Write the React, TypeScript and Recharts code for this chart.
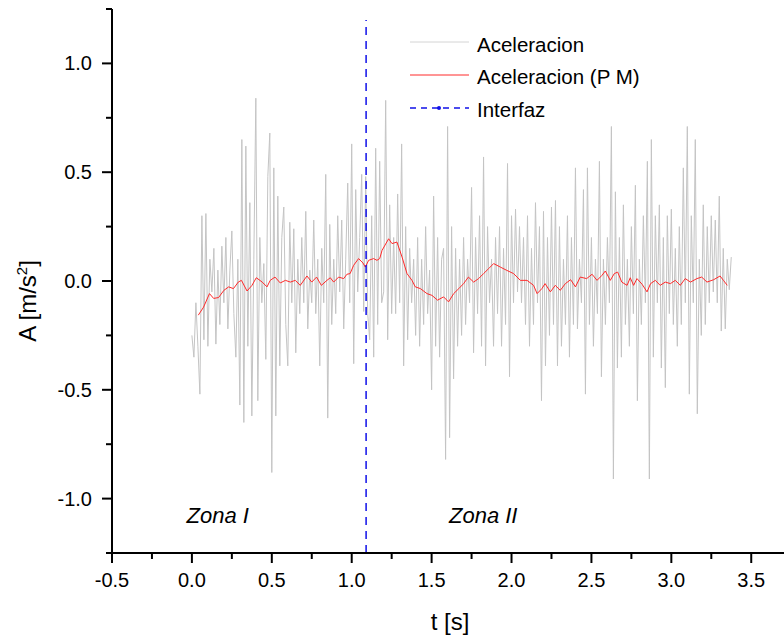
import React from "react";
import { ComposedChart, Line, XAxis, YAxis, ReferenceDot } from "recharts";

// raw acceleration, sampled every SAMPLE_DT seconds from t = 0
const SAMPLE_DT = 0.0125;
const accelValues = [
  -0.25, -0.35, -0.1, -0.3, -0.52, 0.3, -0.27, 0.31,
  -0.3, 0.1, -0.05, 0.15, -0.29, 0.05, -0.2, 0.16,
  -0.1, 0.2, -0.22, 0.05, 0.23, -0.15, -0.35, 0.1,
  -0.57, 0.65, -0.65, 0.62, -0.3, 0.36, -0.62, 0.1,
  0.84, -0.55, 0.2, -0.1, 0.08, -0.36, 0.48, 0.68,
  -0.88, 0.52, -0.62, 0.39, -0.39, 0.2, 0.34, -0.2,
  -0.39, 0.27, -0.1, 0.24, -0.33, 0.1, -0.15, 0.2,
  -0.1, 0.32, -0.22, 0.05, -0.1, 0.28, -0.15, 0.1,
  -0.39, 0.15, -0.1, 0.49, -0.63, 0.26, -0.2, 0.1,
  -0.15, 0.3, -0.05, 0.28, -0.22, 0.1, 0.45, -0.1,
  0.63, -0.38, 0.42, -0.05, 0.2, 0.49, -0.14, 0.48,
  -0.15, -0.27, 0.3, -0.35, 0.61, -0.2, 0.55, -0.1,
  -0.05, 0.83, -0.27, 0.35, -0.15, 0.2, -0.15, 0.4,
  -0.1, 0.63, -0.39, 0.25, -0.27, 0.15, -0.1, 0.1,
  -0.25, 0.2, -0.3, 0.1, -0.2, 0.25, -0.15, 0.05,
  -0.5, 0.39, -0.3, 0.2, -0.35, 0.1, 0.15, -0.82,
  0.71, -0.72, 0.25, -0.45, 0.15, -0.3, 0.1, -0.25,
  0.2, -0.2, 0.1, -0.1, 0.43, -0.33, 0.2, -0.15,
  0.3, -0.3, 0.57, -0.39, 0.25, -0.1, 0.1, -0.3,
  0.2, -0.15, 0.25, -0.3, 0.15, -0.2, 0.54, -0.44,
  0.3, -0.1, 0.33, -0.05, 0.25, -0.1, 0.2, -0.2,
  0.3, -0.3, 0.15, -0.2, 0.36, -0.1, 0.25, -0.55,
  0.32, -0.39, 0.2, -0.25, 0.34, -0.2, 0.37, -0.39,
  0.25, -0.3, 0.1, -0.2, 0.3, -0.35, 0.2, -0.2,
  0.52, -0.22, 0.1, -0.1, 0.42, -0.52, 0.52, -0.2,
  0.2, -0.3, 0.1, -0.15, 0.55, -0.44, 0.1, -0.2,
  0.2, -0.1, 0.71, -0.91, 0.41, -0.4, 0.2, -0.35,
  0.35, -0.2, 0.1, -0.3, 0.25, -0.15, 0.44, -0.55,
  0.1, -0.2, 0.3, -0.1, 0.55, -0.91, 0.65, -0.35,
  0.3, -0.1, 0.35, -0.4, 0.2, -0.49, 0.3, -0.15,
  0.33, -0.2, 0.15, -0.3, 0.25, -0.2, 0.52, -0.1,
  0.71, -0.52, 0.3, -0.1, 0.65, -0.61, 0.1, -0.25,
  0.35, -0.2, 0.25, -0.1, 0.3, -0.05, 0.28, -0.1,
  0.39, -0.23, 0.15, -0.22, 0.1, -0.04, 0.11,
];

// moving average (P M)
const pmTimes = [
  0.04, 0.073, 0.11, 0.136, 0.167, 0.2, 0.23, 0.26, 0.29, 0.31,
  0.345, 0.376, 0.403, 0.44, 0.47, 0.49, 0.52, 0.553, 0.585, 0.616,
  0.647, 0.678, 0.72, 0.75, 0.78, 0.81, 0.845, 0.866, 0.887, 0.918,
  0.95, 0.97, 0.99, 1.012, 1.043, 1.07, 1.085, 1.106, 1.137, 1.158,
  1.175, 1.19, 1.231, 1.252, 1.283, 1.315, 1.346, 1.377, 1.398, 1.43,
  1.471, 1.502, 1.537, 1.575, 1.606, 1.638, 1.67, 1.7, 1.73, 1.763,
  1.794, 1.825, 1.857, 1.888, 1.93, 1.97, 2.013, 2.055, 2.097, 2.138,
  2.16, 2.19, 2.21, 2.243, 2.274, 2.305, 2.337, 2.37, 2.4, 2.43,
  2.47, 2.504, 2.535, 2.566, 2.587, 2.618, 2.643, 2.664, 2.69, 2.723,
  2.743, 2.764, 2.785, 2.817, 2.848, 2.87, 2.9, 2.93, 2.962, 2.994,
  3.025, 3.056, 3.087, 3.12, 3.16, 3.19, 3.223, 3.265, 3.305, 3.326,
  3.35,
];
const pmValues = [
  -0.157, -0.12, -0.058, -0.08, -0.076, -0.043, -0.027, -0.035, -0.005, 0.003,
  -0.046, -0.02, 0.015, -0.005, -0.027, 0.003, 0.018, -0.009, 0.003, -0.005,
  0.003, -0.02, 0.023, -0.005, 0.018, -0.02, 0.003, 0.015, -0.005, 0.018,
  0.011, 0.031, 0.034, 0.072, 0.103, 0.083, 0.064, 0.095, 0.103, 0.095,
  0.103, 0.141, 0.194, 0.172, 0.179, 0.11, 0.034, 0.003, -0.027, -0.035,
  -0.058, -0.066, -0.088, -0.073, -0.096, -0.058, -0.035, -0.012, 0.018, -0.005,
  0.011, 0.034, 0.057, 0.08, 0.064, 0.049, 0.034, 0.003, 0.003, -0.02,
  -0.058, -0.035, -0.012, -0.05, -0.02, -0.043, -0.012, 0.006, -0.027, 0.018,
  0.011, 0.031, 0.003, 0.026, 0.046, 0.003, 0.034, 0.041, -0.005, -0.02,
  0.015, -0.02, 0.011, -0.015, -0.05, -0.012, 0.003, -0.02, -0.005, -0.012,
  0.003, -0.02, 0.011, -0.005, 0.011, 0.018, -0.005, 0.006, 0.023, 0.003,
  -0.02,
];

const interfaceTime = 1.09;
const interfaceSpan = [-1.25, 1.2];

const xTicks = [-0.5, -0.25, 0, 0.25, 0.5, 0.75, 1, 1.25, 1.5, 1.75, 2, 2.25, 2.5, 2.75, 3, 3.25, 3.5];
const yTicks = [-1.25, -1, -0.75, -0.5, -0.25, 0, 0.25, 0.5, 0.75, 1, 1.25];

const zones = [
  { label: "Zona I", t: 0.162, a: -1.112 },
  { label: "Zona II", t: 1.823, a: -1.112 },
];

const accelData = accelValues.map((a, i) => ({ t: i * SAMPLE_DT, a }));
const pmData = pmTimes.map((t, i) => ({ t, pm: pmValues[i] }));
const interfaceData = interfaceSpan.map((v) => ({ t: interfaceTime, itf: v }));

const FONT = "'Liberation Sans', Arial, sans-serif";
const BLUE = "#1010e8";

const isMajor = (v: number) => Math.abs(v * 2 - Math.round(v * 2)) < 1e-6;

function XTick(props: any) {
  const { x, y, payload } = props;
  const major = isMajor(payload.value);
  return (
    <g>
      <line x1={x} x2={x} y1={y} y2={y + (major ? 10 : 6)} stroke="#000" strokeWidth={2} />
      {major && (
        <text x={x} y={y + 34} textAnchor="middle" fontSize={20} fontFamily={FONT} fill="#000">
          {payload.value.toFixed(1)}
        </text>
      )}
    </g>
  );
}

function YTick(props: any) {
  const { x, y, payload } = props;
  const major = isMajor(payload.value);
  return (
    <g>
      <line x1={x - (major ? 10 : 6)} x2={x} y1={y} y2={y} stroke="#000" strokeWidth={2} />
      {major && (
        <text x={x - 20} y={y + 7} textAnchor="end" fontSize={20} fontFamily={FONT} fill="#000">
          {payload.value.toFixed(1)}
        </text>
      )}
    </g>
  );
}

function ZoneText(label: string) {
  return (props: any) => (
    <text
      x={props.cx}
      y={props.cy}
      textAnchor="middle"
      fontSize={22}
      fontStyle="italic"
      fontFamily={FONT}
      fill="#000"
    >
      {label}
    </text>
  );
}

export default function App() {
  return (
    <div style={{ position: "absolute", left: 0, top: 0, width: 784, height: 641, background: "#fff" }}>
      <ComposedChart width={784} height={641} margin={{ top: 9, right: 0, bottom: 0, left: 0 }}>
        <XAxis
          type="number"
          dataKey="t"
          domain={[-0.5, 3.705]}
          ticks={xTicks}
          interval={0}
          allowDataOverflow
          height={88}
          tickSize={0}
          tickMargin={0}
          tickLine={false}
          tick={<XTick />}
          axisLine={{ stroke: "#000", strokeWidth: 2 }}
        />
        <YAxis
          type="number"
          domain={[-1.25, 1.25]}
          ticks={yTicks}
          interval={0}
          allowDataOverflow
          width={112}
          tickSize={0}
          tickMargin={0}
          tickLine={false}
          tick={<YTick />}
          axisLine={{ stroke: "#000", strokeWidth: 2 }}
        />
        <Line
          data={accelData}
          dataKey="a"
          type="linear"
          stroke="#c4c4c4"
          strokeWidth={1}
          dot={false}
          isAnimationActive={false}
        />
        <Line
          data={pmData}
          dataKey="pm"
          type="linear"
          stroke="#ff2a2a"
          strokeWidth={1}
          dot={false}
          isAnimationActive={false}
        />
        <Line
          data={interfaceData}
          dataKey="itf"
          type="linear"
          stroke={BLUE}
          strokeWidth={1.5}
          strokeDasharray="8 6"
          dot={false}
          isAnimationActive={false}
        />
        {zones.map((z) => (
          <ReferenceDot key={z.label} x={z.t} y={z.a} r={0} shape={ZoneText(z.label)} />
        ))}
      </ComposedChart>
      <svg
        width={784}
        height={641}
        style={{ position: "absolute", left: 0, top: 0, pointerEvents: "none" }}
        fontFamily={FONT}
      >
        <line x1={410} x2={469} y1={42} y2={42} stroke="#d4d4d4" strokeWidth={1} />
        <text x={477} y={52} fontSize={20.5} fill="#000">Aceleracion</text>
        <line x1={410} x2={469} y1={75} y2={75} stroke="#ff2a2a" strokeWidth={1} />
        <text x={477} y={84} fontSize={20.5} fill="#000">Aceleracion (P M)</text>
        <line x1={410} x2={469} y1={108} y2={108} stroke={BLUE} strokeWidth={1.5} strokeDasharray="6 5" />
        <circle cx={439} cy={108} r={2} fill={BLUE} />
        <text x={477} y={117} fontSize={20.5} fill="#000">Interfaz</text>
        <text x={450} y={630} textAnchor="middle" fontSize={24} fill="#000">t [s]</text>
        <text transform="translate(36,301) rotate(-90)" textAnchor="middle" fontSize={24} fill="#000">
          <tspan>A [m/s</tspan>
          <tspan dy={-9} fontSize={15}>2</tspan>
          <tspan dy={9}>]</tspan>
        </text>
      </svg>
    </div>
  );
}
